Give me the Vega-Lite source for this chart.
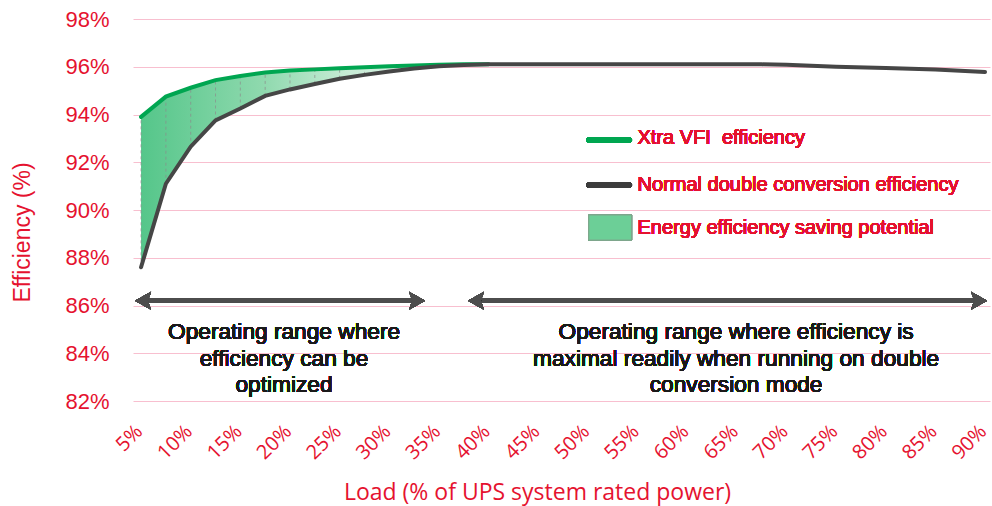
{
  "$schema": "https://vega.github.io/schema/vega-lite/v6.json",
  "width": 857,
  "height": 382,
  "autosize": {"type": "none"},
  "padding": {"left": 133, "top": 19, "right": 2, "bottom": 105},
  "background": "white",
  "config": {
    "view": {"stroke": null},
    "axis": {"tickSize": 0, "ticks": false, "domain": false, "labelColor": "#e5122f", "titleColor": "#e5122f", "titleFontWeight": "normal"}
  },
  "data": {
    "values": [
      {"load": 5, "xtra": 93.9, "normal": 87.6},
      {"load": 7.5, "xtra": 94.75, "normal": 91.1},
      {"load": 10, "xtra": 95.12, "normal": 92.65},
      {"load": 12.5, "xtra": 95.44, "normal": 93.75},
      {"load": 15, "xtra": 95.61, "normal": 94.25},
      {"load": 17.5, "xtra": 95.76, "normal": 94.78},
      {"load": 20, "xtra": 95.84, "normal": 95.05},
      {"load": 22.5, "xtra": 95.89, "normal": 95.28},
      {"load": 25, "xtra": 95.94, "normal": 95.5},
      {"load": 27.5, "xtra": 95.98, "normal": 95.66},
      {"load": 30, "xtra": 96.02, "normal": 95.8},
      {"load": 32.5, "xtra": 96.05, "normal": 95.93},
      {"load": 35, "xtra": 96.08, "normal": 96.02},
      {"load": 37.5, "xtra": 96.1, "normal": 96.07},
      {"load": 40, "xtra": 96.1, "normal": 96.1},
      {"load": 42.5, "xtra": 96.1, "normal": 96.1},
      {"load": 45, "xtra": 96.1, "normal": 96.1},
      {"load": 50, "xtra": 96.1, "normal": 96.1},
      {"load": 55, "xtra": 96.1, "normal": 96.1},
      {"load": 60, "xtra": 96.1, "normal": 96.1},
      {"load": 65, "xtra": 96.1, "normal": 96.1},
      {"load": 67.5, "xtra": 96.1, "normal": 96.1},
      {"load": 70, "xtra": 96.08, "normal": 96.08},
      {"load": 75, "xtra": 96.0, "normal": 96.0},
      {"load": 80, "xtra": 95.95, "normal": 95.95},
      {"load": 85, "xtra": 95.88, "normal": 95.88},
      {"load": 90, "xtra": 95.78, "normal": 95.78}
    ]
  },
  "layer": [
    {
      "transform": [{"filter": "datum.load <= 40"}],
      "mark": {
        "type": "area",
        "fill": {
          "gradient": "linear", "x1": 0, "y1": 0, "x2": 1, "y2": 0,
          "stops": [
            {"offset": 0, "color": "#55c68a"},
            {"offset": 0.35, "color": "#8fd9ae"},
            {"offset": 0.6, "color": "#c8ecd6"},
            {"offset": 1, "color": "#e8f8ee"}
          ]
        }
      },
      "encoding": {
        "x": {
          "field": "load", "type": "quantitative",
          "scale": {"domain": [4.19, 90.5], "nice": false, "zero": false},
          "axis": {
            "values": [5, 10, 15, 20, 25, 30, 35, 40, 45, 50, 55, 60, 65, 70, 75, 80, 85, 90],
            "labelExpr": "datum.value + '%'",
            "labelAngle": -45, "labelAlign": "right", "labelBaseline": "middle",
            "labelFont": "Open Sans", "labelFontSize": 20, "labelPadding": 27, "labelOffset": -2,
            "labelOverlap": false, "labelFlush": false, "labelBound": false,
            "grid": false,
            "title": "Load (% of UPS system rated power)",
            "titleFont": "Open Sans", "titleFontSize": 23,
            "titleX": 404, "titleY": 91, "titleBaseline": "middle", "titleAnchor": "middle", "titleAlign": "center"
          }
        },
        "y": {
          "field": "normal", "type": "quantitative",
          "scale": {"domain": [82, 98], "nice": false, "zero": false},
          "axis": {
            "values": [82, 84, 86, 88, 90, 92, 94, 96, 98],
            "labelExpr": "datum.value + '%'",
            "labelFont": "Liberation Sans", "labelFontSize": 22, "labelPadding": 24,
            "grid": true, "gridColor": "#f8bfcf", "gridWidth": 1,
            "title": "Efficiency (%)",
            "titleFont": "Liberation Sans", "titleFontSize": 23,
            "titleX": -111, "titleY": 213, "titleBaseline": "middle", "titleAngle": -90, "titleAlign": "center"
          }
        },
        "y2": {"field": "xtra"}
      }
    },
    {
      "transform": [{"filter": "datum.load <= 27.5"}],
      "mark": {"type": "rule", "color": "#8c8c8c", "strokeWidth": 1, "strokeDash": [3, 3], "opacity": 0.7},
      "encoding": {
        "x": {"field": "load", "type": "quantitative"},
        "y": {"field": "normal", "type": "quantitative"},
        "y2": {"field": "xtra"}
      }
    },
    {
      "transform": [{"filter": "datum.load <= 40"}],
      "mark": {"type": "line", "color": "#00a651", "strokeWidth": 4, "strokeCap": "round"},
      "encoding": {
        "x": {"field": "load", "type": "quantitative"},
        "y": {"field": "xtra", "type": "quantitative"}
      }
    },
    {
      "mark": {"type": "line", "color": "#464646", "strokeWidth": 4, "strokeCap": "round"},
      "encoding": {
        "x": {"field": "load", "type": "quantitative"},
        "y": {"field": "normal", "type": "quantitative"}
      }
    },
    {
      "mark": {"type": "rule", "color": "#4d4d4d", "strokeWidth": 4},
      "encoding": {
        "x": {"datum": 4.8, "type": "quantitative"},
        "x2": {"datum": 33.2},
        "y": {"datum": 86.2, "type": "quantitative"}
      }
    },
    {
      "mark": {"type": "rule", "color": "#4d4d4d", "strokeWidth": 4},
      "encoding": {
        "x": {"datum": 38.3, "type": "quantitative"},
        "x2": {"datum": 89.8},
        "y": {"datum": 86.2, "type": "quantitative"}
      }
    },
    {
      "mark": {"type": "point", "filled": true, "color": "#4d4d4d", "opacity": 1, "size": 1024, "shape": "M0,0 L1,-0.56 L0.8,0 L1,0.56 Z"},
      "encoding": {
        "x": {"datum": 4.4, "type": "quantitative"},
        "y": {"datum": 86.2, "type": "quantitative"}
      }
    },
    {
      "mark": {"type": "point", "filled": true, "color": "#4d4d4d", "opacity": 1, "size": 1024, "shape": "M0,0 L-1,-0.56 L-0.8,0 L-1,0.56 Z"},
      "encoding": {
        "x": {"datum": 33.6, "type": "quantitative"},
        "y": {"datum": 86.2, "type": "quantitative"}
      }
    },
    {
      "mark": {"type": "point", "filled": true, "color": "#4d4d4d", "opacity": 1, "size": 1024, "shape": "M0,0 L1,-0.56 L0.8,0 L1,0.56 Z"},
      "encoding": {
        "x": {"datum": 37.93, "type": "quantitative"},
        "y": {"datum": 86.2, "type": "quantitative"}
      }
    },
    {
      "mark": {"type": "point", "filled": true, "color": "#4d4d4d", "opacity": 1, "size": 1024, "shape": "M0,0 L-1,-0.56 L-0.8,0 L-1,0.56 Z"},
      "encoding": {
        "x": {"datum": 90.2, "type": "quantitative"},
        "y": {"datum": 86.2, "type": "quantitative"}
      }
    },
    {
      "mark": {"type": "text", "text": "Operating range where\nefficiency can be\noptimized", "lineBreak": "\n", "lineHeight": 26.5, "font": "Liberation Sans", "fontSize": 22.7, "fill": "#1a1a1a", "align": "center", "baseline": "middle"},
      "encoding": {
        "x": {"datum": 19.4, "type": "quantitative"},
        "y": {"datum": 84.87, "type": "quantitative"}
      }
    },
    {
      "mark": {"type": "text", "text": "Operating range where efficiency is\nmaximal readily when running on double\nconversion mode", "lineBreak": "\n", "lineHeight": 26.5, "font": "Liberation Sans", "fontSize": 22.7, "fill": "#1a1a1a", "align": "center", "baseline": "middle"},
      "encoding": {
        "x": {"datum": 64.93, "type": "quantitative"},
        "y": {"datum": 84.87, "type": "quantitative"}
      }
    },
    {
      "mark": {"type": "rule", "color": "#00a651", "strokeWidth": 5, "strokeCap": "round"},
      "encoding": {
        "x": {"datum": 50.1, "type": "quantitative"},
        "x2": {"datum": 54.2},
        "y": {"datum": 92.93, "type": "quantitative"}
      }
    },
    {
      "mark": {"type": "rule", "color": "#3c3c3c", "strokeWidth": 5, "strokeCap": "round"},
      "encoding": {
        "x": {"datum": 50.1, "type": "quantitative"},
        "x2": {"datum": 54.2},
        "y": {"datum": 91.05, "type": "quantitative"}
      }
    },
    {
      "mark": {"type": "rect", "fill": "#6ccf97", "stroke": "#7fa58c", "strokeWidth": 1},
      "encoding": {
        "x": {"datum": 50.1, "type": "quantitative"},
        "x2": {"datum": 54.4},
        "y": {"datum": 89.79, "type": "quantitative"},
        "y2": {"datum": 88.74}
      }
    },
    {
      "mark": {"type": "text", "text": "Xtra VFI\u00a0 efficiency", "font": "Liberation Sans", "fontSize": 20, "fill": "#e5122f", "align": "left", "baseline": "middle"},
      "encoding": {
        "x": {"datum": 55.0, "type": "quantitative"},
        "y": {"datum": 93.02, "type": "quantitative"}
      }
    },
    {
      "mark": {"type": "text", "text": "Normal double conversion efficiency", "font": "Liberation Sans", "fontSize": 20, "fill": "#e5122f", "align": "left", "baseline": "middle"},
      "encoding": {
        "x": {"datum": 55.0, "type": "quantitative"},
        "y": {"datum": 91.05, "type": "quantitative"}
      }
    },
    {
      "mark": {"type": "text", "text": "Energy efficiency saving potential", "font": "Liberation Sans", "fontSize": 20, "fill": "#e5122f", "align": "left", "baseline": "middle"},
      "encoding": {
        "x": {"datum": 55.0, "type": "quantitative"},
        "y": {"datum": 89.25, "type": "quantitative"}
      }
    }
  ]
}
